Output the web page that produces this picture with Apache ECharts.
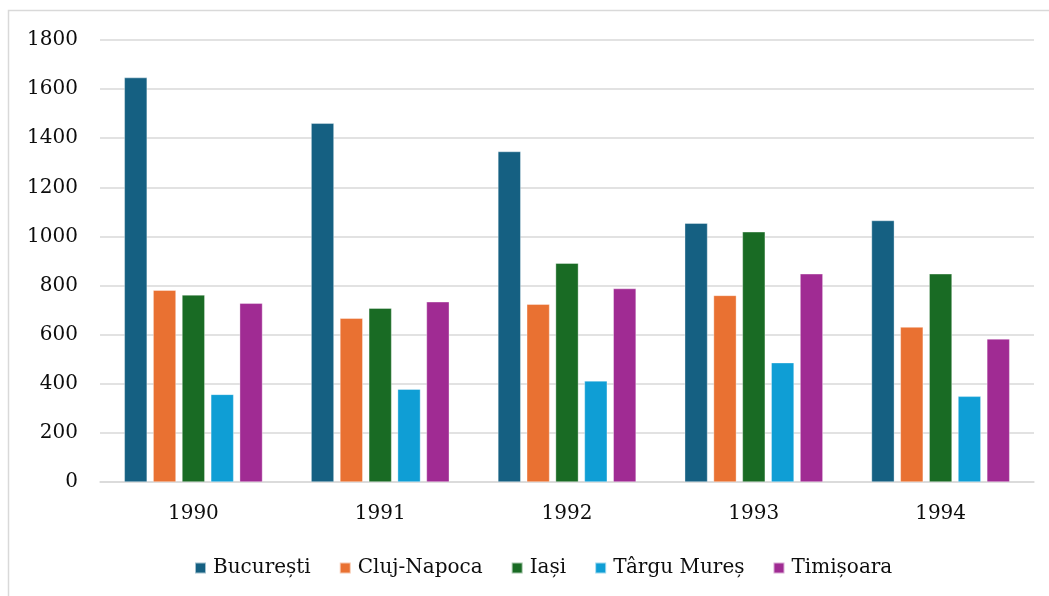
<!DOCTYPE html>
<html>
<head>
<meta charset="utf-8">
<script src="https://cdn.jsdelivr.net/npm/echarts@6/dist/echarts.min.js"></script>
<style>
html,body{margin:0;padding:0;background:#fff;}
#c{width:1049px;height:596px;}
</style>
</head>
<body>
<div id="c"></div>
<script>
const categories = ['1990', '1991', '1992', '1993', '1994'];
const seriesNames = ['București', 'Cluj-Napoca', 'Iași', 'Târgu Mureș', 'Timișoara'];
const bucuresti = [1647, 1461, 1346, 1054, 1065];
const clujNapoca = [781, 667, 724, 760, 631];
const iasi = [762, 708, 891, 1019, 848];
const targuMures = [357, 378, 412, 486, 349];
const timisoara = [728, 734, 788, 848, 583];
const colors = ['#156082', '#E97132', '#196B24', '#0F9ED5', '#A02B93'];

const values = [bucuresti, clujNapoca, iasi, targuMures, timisoara];
const font = 'DejaVu Serif';
const textColor = '#0d0d0d';

const chart = echarts.init(document.getElementById('c'));
chart.setOption({
  animation: false,
  color: colors,
  graphic: [{
    type: 'rect',
    shape: { x: 8.5, y: 10.5, width: 1100, height: 700 },
    style: { fill: 'none', stroke: '#d9d9d9', lineWidth: 1.5 },
    silent: true,
    z: -1
  }],
  grid: { left: 100, right: 15, top: 40, bottom: 114, containLabel: false },
  legend: {
    data: seriesNames,
    top: 553,
    left: 189,
    icon: 'rect',
    itemWidth: 11,
    itemHeight: 11,
    itemGap: 28,
    textStyle: { fontFamily: font, fontSize: 20, color: textColor, padding: [0, 0, 0, 2] }
  },
  xAxis: {
    type: 'category',
    data: categories,
    axisTick: { show: false },
    axisLine: { show: true, lineStyle: { color: '#d9d9d9', width: 1.5 } },
    axisLabel: { fontFamily: font, fontSize: 20, color: textColor, margin: 22 }
  },
  yAxis: {
    type: 'value',
    min: 0,
    max: 1800,
    interval: 200,
    axisLine: { show: false },
    axisTick: { show: false },
    splitLine: { lineStyle: { color: '#d9d9d9', width: 1.5 } },
    axisLabel: { fontFamily: font, fontSize: 20, color: textColor, margin: 22, formatter: v => String(v) }
  },
  series: seriesNames.map((n, i) => ({
    name: n,
    type: 'bar',
    data: values[i],
    barGap: '26%',
    barCategoryGap: '26%',
    itemStyle: { color: colors[i], borderColor: 'rgba(255,255,255,0.6)', borderWidth: 0.6 }
  }))
});
</script>
</body>
</html>
